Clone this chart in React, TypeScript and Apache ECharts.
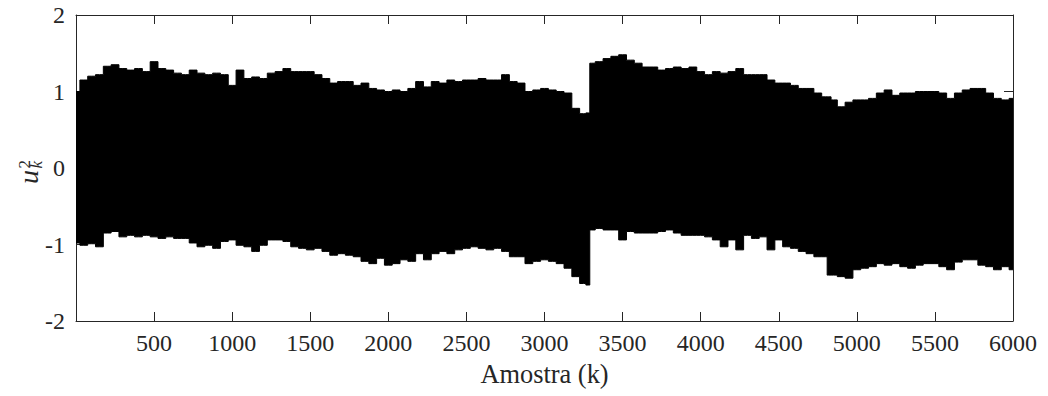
import React, { useEffect, useRef } from "react";
import * as echarts from "echarts";

// sample index (k) at which the envelope was read
const sampleK = [
  0, 50, 100, 150, 200, 250, 300, 350, 400, 450, 500, 550, 600, 650, 700, 750, 800, 850, 900, 950,
  1000, 1050, 1100, 1150, 1200, 1250, 1300, 1350, 1400, 1450, 1500, 1550, 1600, 1650, 1700, 1750, 1800, 1850, 1900, 1950,
  2000, 2050, 2100, 2150, 2200, 2250, 2300, 2350, 2400, 2450, 2500, 2550, 2600, 2650, 2700, 2750, 2800, 2850, 2900, 2950,
  3000, 3050, 3100, 3150, 3200, 3250, 3280, 3300, 3350, 3400, 3450, 3500, 3550, 3600, 3650, 3700, 3750, 3800, 3850, 3900, 3950,
  4000, 4050, 4100, 4150, 4200, 4250, 4300, 4350, 4400, 4450, 4500, 4550, 4600, 4650, 4700, 4750, 4800, 4820, 4850, 4900, 4950,
  5000, 5050, 5100, 5150, 5200, 5250, 5300, 5350, 5400, 5450, 5500, 5550, 5600, 5650, 5700, 5750, 5800, 5850, 5900, 5950,
  6000,
];

// upper envelope of u_k^2
const upperEnv = [
  1.0, 1.15, 1.2, 1.22, 1.33, 1.35, 1.3, 1.28, 1.3, 1.26, 1.39, 1.3, 1.28, 1.24, 1.22, 1.28, 1.24, 1.22, 1.24, 1.22,
  1.08, 1.28, 1.17, 1.19, 1.17, 1.24, 1.26, 1.3, 1.26, 1.26, 1.26, 1.22, 1.17, 1.11, 1.13, 1.13, 1.08, 1.11, 1.04, 1.02,
  1.0, 1.02, 1.0, 1.04, 1.13, 1.06, 1.13, 1.11, 1.15, 1.13, 1.15, 1.15, 1.17, 1.15, 1.15, 1.22, 1.13, 1.11, 1.0, 1.02,
  1.04, 1.02, 1.0, 0.98, 0.78, 0.71, 0.72, 1.37, 1.39, 1.43, 1.46, 1.48, 1.41, 1.37, 1.32, 1.32, 1.28, 1.3, 1.32, 1.3, 1.32,
  1.26, 1.22, 1.26, 1.24, 1.26, 1.3, 1.22, 1.22, 1.22, 1.15, 1.11, 1.11, 1.08, 1.04, 1.04, 0.98, 0.93, 0.93, 0.89, 0.8, 0.86,
  0.89, 0.89, 0.91, 0.98, 1.02, 0.95, 0.98, 0.98, 1.0, 1.0, 1.0, 0.98, 0.91, 0.98, 1.02, 1.04, 1.04, 0.98, 0.91, 0.89,
  0.91,
];

// lower envelope of u_k^2
const lowerEnv = [
  -0.98, -1.01, -0.99, -1.03, -0.85, -0.83, -0.9, -0.88, -0.9, -0.88, -0.9, -0.92, -0.9, -0.92, -0.92, -0.98, -1.03, -1.01, -1.05, -0.96,
  -0.94, -1.01, -1.03, -1.09, -1.01, -0.94, -0.94, -0.96, -1.03, -1.05, -1.07, -1.05, -1.09, -1.14, -1.12, -1.14, -1.16, -1.22, -1.25, -1.18,
  -1.27, -1.25, -1.2, -1.22, -1.12, -1.2, -1.12, -1.09, -1.12, -1.07, -1.05, -1.03, -1.05, -1.07, -1.05, -1.09, -1.16, -1.16, -1.25, -1.22,
  -1.2, -1.22, -1.25, -1.31, -1.42, -1.51, -1.53, -0.81, -0.79, -0.81, -0.81, -0.94, -0.83, -0.85, -0.85, -0.85, -0.83, -0.81, -0.85, -0.88, -0.88,
  -0.88, -0.9, -0.94, -1.03, -0.94, -1.07, -0.88, -0.92, -0.9, -1.07, -0.94, -1.03, -1.05, -1.09, -1.12, -1.16, -1.16, -1.4, -1.4, -1.42, -1.44,
  -1.33, -1.31, -1.29, -1.25, -1.27, -1.25, -1.29, -1.31, -1.27, -1.25, -1.25, -1.29, -1.33, -1.23, -1.2, -1.2, -1.27, -1.29, -1.33, -1.29,
  -1.33,
];

const xTicks = { min: 0, max: 6000, interval: 500 };
const yTicks = { min: -2, max: 2, interval: 1 };

const FONT = "'Liberation Serif', 'DejaVu Serif', serif";
const AXIS_COLOR = "#262626";

export default function App() {
  const ref = useRef<HTMLDivElement>(null);

  useEffect(() => {
    if (!ref.current) return;
    const chart = echarts.init(ref.current, undefined, { renderer: "svg" });
    const n = Math.min(sampleK.length, upperEnv.length, lowerEnv.length);
    const upperPts = [];
    const lowerPts = [];
    for (let i = 0; i < n; i++) {
      upperPts.push([sampleK[i], upperEnv[i]]);
      lowerPts.push([sampleK[i], lowerEnv[i]]);
    }

    const axisBase = {
      axisLine: { show: true, onZero: false, lineStyle: { color: AXIS_COLOR, width: 1 } },
      axisTick: { show: true, inside: true, length: 9, lineStyle: { color: AXIS_COLOR, width: 1 } },
      splitLine: { show: false },
    };

    const bandSeries = (data: number[][]) => ({
      type: "line",
      xAxisIndex: 0,
      yAxisIndex: 0,
      data,
      step: "middle",
      symbol: "none",
      showSymbol: false,
      lineStyle: { color: "#000", width: 1 },
      areaStyle: { color: "#000", opacity: 1, origin: "auto" },
      silent: true,
      z: 2,
    });

    chart.setOption({
      animation: false,
      backgroundColor: "#fff",
      grid: { left: 76, right: 35, top: 15, bottom: 75, containLabel: false },
      xAxis: [
        {
          type: "value",
          position: "bottom",
          ...xTicks,
          ...axisBase,
          axisLabel: {
            color: AXIS_COLOR,
            fontFamily: FONT,
            fontSize: 24,
            margin: 10,
            formatter: (v: number) => (v === 0 ? "" : String(v)),
          },
          name: "Amostra (k)",
          nameLocation: "middle",
          nameGap: 40,
          nameTextStyle: { color: AXIS_COLOR, fontFamily: FONT, fontSize: 26.4 },
        },
        {
          type: "value",
          position: "top",
          ...xTicks,
          ...axisBase,
          axisLabel: { show: false },
        },
      ],
      yAxis: [
        {
          type: "value",
          position: "left",
          ...yTicks,
          ...axisBase,
          axisLabel: {
            color: AXIS_COLOR,
            fontFamily: FONT,
            fontSize: 24,
            margin: 11,
          },
        },
        {
          type: "value",
          position: "right",
          ...yTicks,
          ...axisBase,
          axisLabel: { show: false },
        },
      ],
      graphic: [
        {
          type: "group",
          x: 38,
          y: 184,
          rotation: Math.PI / 2,
          children: [
            {
              type: "text",
              x: 0,
              y: -9.2,
              style: {
                text: "u",
                fontFamily: FONT,
                fontStyle: "italic",
                fontSize: 28,
                fill: AXIS_COLOR,
                align: "left",
                verticalAlign: "middle",
              },
            },
            {
              type: "text",
              x: 15.5,
              y: -14,
              style: {
                text: "2",
                fontFamily: FONT,
                fontSize: 17,
                fill: AXIS_COLOR,
                align: "left",
                verticalAlign: "middle",
              },
            },
            {
              type: "text",
              x: 15.5,
              y: -1.5,
              style: {
                text: "k",
                fontFamily: FONT,
                fontStyle: "italic",
                fontSize: 17,
                fill: AXIS_COLOR,
                align: "left",
                verticalAlign: "middle",
              },
            },
          ],
        },
      ],
      series: [bandSeries(upperPts), bandSeries(lowerPts)],
    });

    return () => chart.dispose();
  }, []);

  return (
    <div
      ref={ref}
      style={{ position: "fixed", left: 0, top: 0, width: 1048, height: 396, background: "#fff" }}
    />
  );
}
